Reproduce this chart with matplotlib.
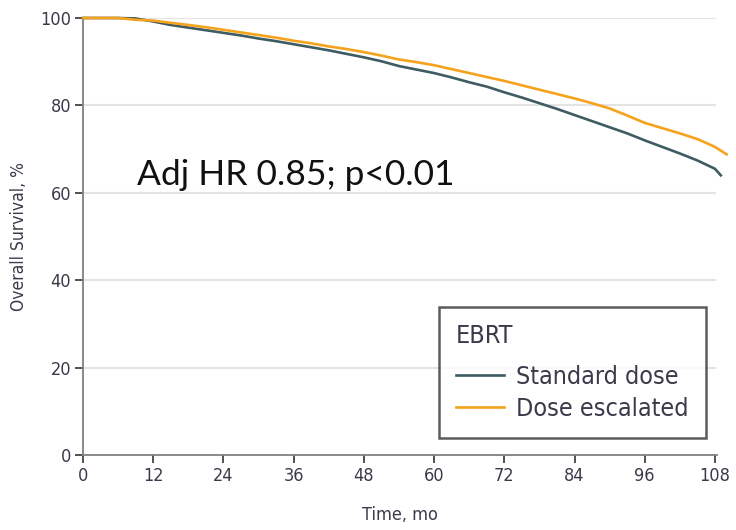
import matplotlib.pyplot as plt
from matplotlib.font_manager import FontProperties

# Overall survival by EBRT dose group, read at 3-month intervals
months_std = [0, 3, 6, 9, 12, 15, 18, 21, 24, 27, 30, 33, 36, 39, 42, 45, 48, 51, 54,
              57, 60, 63, 66, 69, 72, 75, 78, 81, 84, 87, 90, 93, 96, 99, 102, 105, 108, 109]
surv_std = [100, 100, 100, 99.9, 99.2, 98.4, 97.8, 97.2, 96.6, 96.0, 95.3, 94.7, 94.0,
            93.3, 92.6, 91.8, 91.0, 90.1, 89.0, 88.2, 87.4, 86.4, 85.3, 84.3, 83.0,
            81.8, 80.5, 79.2, 77.8, 76.4, 75.0, 73.6, 72.0, 70.5, 69.0, 67.4, 65.5, 64.0]

months_esc = [0, 3, 6, 9, 12, 15, 18, 21, 24, 27, 30, 33, 36, 39, 42, 45, 48, 51, 54,
              57, 60, 63, 66, 69, 72, 75, 78, 81, 84, 87, 90, 93, 96, 99, 102, 105, 108, 110]
surv_esc = [100, 100, 100, 99.6, 99.4, 98.9, 98.4, 97.9, 97.3, 96.7, 96.1, 95.5, 94.8,
            94.2, 93.5, 92.9, 92.2, 91.4, 90.5, 89.9, 89.2, 88.3, 87.4, 86.5, 85.6,
            84.6, 83.6, 82.6, 81.6, 80.5, 79.3, 77.7, 76.0, 74.8, 73.6, 72.3, 70.5, 68.8]

xticks = list(range(0, 109, 12))
yticks = [0, 20, 40, 60, 80, 100]

c_std = '#3e5c62'
c_esc = '#f5a21c'
c_txt = '#3a3a4a'


def narrow(size):
    return FontProperties(family='DejaVu Sans', stretch='condensed', size=size)


fig = plt.figure(figsize=(7.36, 5.30), dpi=100)
ax = fig.add_axes([83 / 736, 1 - 455 / 530, (716.7 - 83) / 736, (455 - 18) / 530])

for y in yticks[1:]:
    ax.axhline(y, color='#e4e4e4', lw=1.5, zorder=0, xmax=108 / 108.3)

ax.plot(months_std, surv_std, color=c_std, lw=1.9, label='Standard dose',
        clip_on=False, zorder=3)
ax.plot(months_esc, surv_esc, color=c_esc, lw=1.9, label='Dose escalated',
        clip_on=False, zorder=3)

ax.set_xlim(0, 108.3)
ax.set_ylim(0, 100)
ax.set_xticks(xticks)
ax.set_yticks(yticks)

for s in ['top', 'right']:
    ax.spines[s].set_visible(False)
for s in ['left', 'bottom']:
    ax.spines[s].set_color('#808080')
    ax.spines[s].set_linewidth(1.3)

ax.tick_params(direction='out', length=5.5, width=1.2, color='#333333',
               labelcolor=c_txt, pad=3)
for lab in ax.get_xticklabels() + ax.get_yticklabels():
    lab.set_fontproperties(narrow(13))

ax.set_xlabel('Time, mo', fontproperties=narrow(13), color=c_txt, labelpad=15)
ax.set_ylabel('Overall Survival, %', fontproperties=narrow(12.5), color=c_txt,
              labelpad=9)

ax.text(9.3, 61.8, 'Adj HR 0.85; p<0.01', family=['Lato', 'DejaVu Sans'],
        fontsize=25.5, color='#111111')

leg = ax.legend(title='EBRT', loc='lower right', bbox_to_anchor=(706 / 736, 1 - 438 / 530),
                bbox_transform=fig.transFigure, frameon=True, fancybox=False,
                prop=narrow(18), title_fontproperties=narrow(18),
                handlelength=1.9, handletextpad=0.5, borderpad=0.7, labelspacing=0.3,
                borderaxespad=0, alignment='left')
leg.get_frame().set_edgecolor('#333333')
leg.get_frame().set_linewidth(1.8)
leg._legend_box.sep = 12
for t in leg.get_texts():
    t.set_color(c_txt)
leg.get_title().set_color(c_txt)

fig.savefig('out.png', dpi=100)
